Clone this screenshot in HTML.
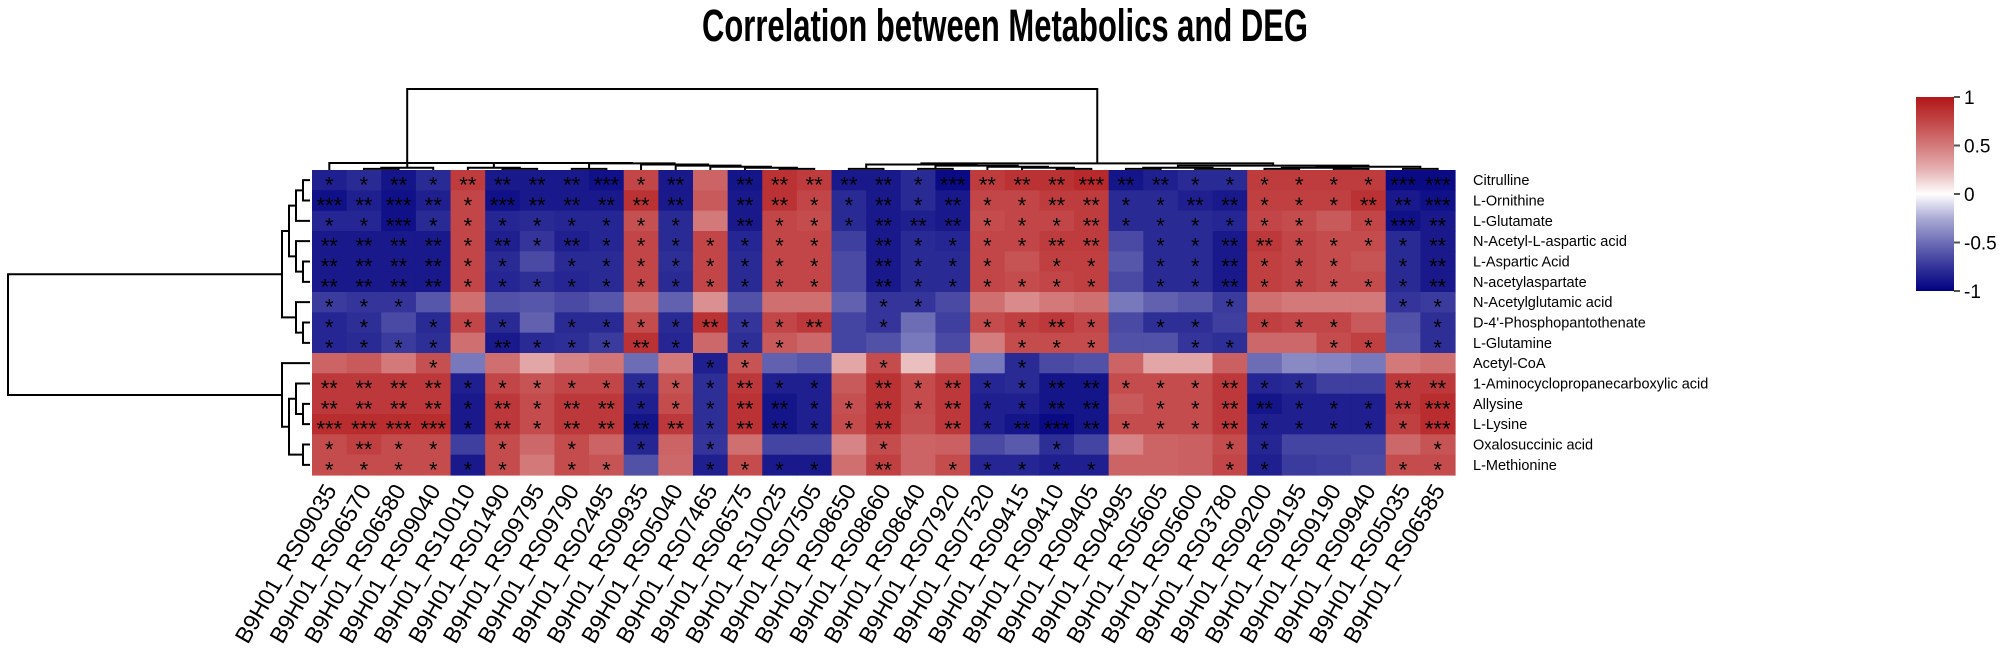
<!DOCTYPE html>
<html><head><meta charset="utf-8"><title>Correlation between Metabolics and DEG</title>
<style>
html,body{margin:0;padding:0;background:#fff;}
svg{display:block;font-family:"Liberation Sans",Arial,sans-serif;}
</style></head>
<body>
<svg id="chart" width="2008" height="666" viewBox="0 0 2008 666" xmlns="http://www.w3.org/2000/svg">
<text x="702" y="41" font-size="45" font-weight="bold" textLength="606" lengthAdjust="spacingAndGlyphs">Correlation between Metabolics and DEG</text>
<g id="dendro-top" stroke="#000" stroke-width="2" fill="none"></g>
<g id="dendro-left" stroke="#000" stroke-width="2" fill="none"></g>
<g id="cells"></g>
<g id="stars"></g>
<g id="rowlabels"></g>
<g id="collabels"></g>
<g id="legend"></g>
</svg>
<script>
const rowLabels = ["Citrulline","L-Ornithine","L-Glutamate","N-Acetyl-L-aspartic acid","L-Aspartic Acid","N-acetylaspartate","N-Acetylglutamic acid","D-4'-Phosphopantothenate","L-Glutamine","Acetyl-CoA","1-Aminocyclopropanecarboxylic acid","Allysine","L-Lysine","Oxalosuccinic acid","L-Methionine"];
const colLabels = ["B9H01_RS09035","B9H01_RS06570","B9H01_RS06580","B9H01_RS09040","B9H01_RS10010","B9H01_RS01490","B9H01_RS09795","B9H01_RS09790","B9H01_RS02495","B9H01_RS09935","B9H01_RS05040","B9H01_RS07465","B9H01_RS06575","B9H01_RS10025","B9H01_RS07505","B9H01_RS08650","B9H01_RS08660","B9H01_RS08640","B9H01_RS07920","B9H01_RS07520","B9H01_RS09415","B9H01_RS09410","B9H01_RS09405","B9H01_RS04995","B9H01_RS05605","B9H01_RS05600","B9H01_RS03780","B9H01_RS09200","B9H01_RS09195","B9H01_RS09190","B9H01_RS09940","B9H01_RS05035","B9H01_RS06585"];
const legendTicks = [1,0.5,0,-0.5,-1];
const legendTickLabels = ["1","0.5","0","-0.5","-1"];
const corrValues = [
[-0.85,-0.8,-0.9,-0.8,0.8,-0.88,-0.88,-0.88,-0.92,0.75,-0.88,0.6,-0.9,0.85,0.8,-0.88,-0.88,-0.8,-0.95,0.8,0.85,0.85,0.9,-0.9,-0.85,-0.8,-0.8,0.8,0.8,0.8,0.8,-0.95,-0.95],
[-0.92,-0.85,-0.92,-0.85,0.75,-0.92,-0.88,-0.88,-0.88,0.85,-0.88,0.65,-0.88,0.85,0.75,-0.8,-0.88,-0.8,-0.88,0.75,0.75,0.8,0.8,-0.8,-0.8,-0.85,-0.88,0.78,0.78,0.78,0.85,-0.88,-0.92],
[-0.82,-0.82,-0.92,-0.8,0.75,-0.82,-0.8,-0.82,-0.82,0.7,-0.8,0.5,-0.88,0.75,0.72,-0.8,-0.88,-0.85,-0.88,0.72,0.75,0.75,0.8,-0.8,-0.8,-0.8,-0.82,0.75,0.72,0.65,0.75,-0.92,-0.88],
[-0.88,-0.88,-0.88,-0.88,0.75,-0.85,-0.75,-0.85,-0.82,0.75,-0.8,0.75,-0.82,0.75,0.75,-0.7,-0.88,-0.8,-0.82,0.75,0.75,0.8,0.8,-0.65,-0.8,-0.8,-0.88,0.82,0.75,0.72,0.72,-0.8,-0.88],
[-0.88,-0.88,-0.88,-0.88,0.75,-0.8,-0.65,-0.8,-0.8,0.75,-0.78,0.75,-0.8,0.75,0.75,-0.65,-0.88,-0.8,-0.8,0.75,0.68,0.78,0.78,-0.6,-0.8,-0.8,-0.88,0.78,0.75,0.72,0.68,-0.8,-0.88],
[-0.88,-0.88,-0.88,-0.88,0.75,-0.82,-0.78,-0.82,-0.8,0.75,-0.8,0.75,-0.8,0.75,0.75,-0.65,-0.88,-0.8,-0.8,0.75,0.72,0.75,0.78,-0.65,-0.8,-0.8,-0.88,0.78,0.75,0.72,0.72,-0.8,-0.88],
[-0.72,-0.75,-0.75,-0.6,0.55,-0.62,-0.6,-0.65,-0.6,0.55,-0.55,0.4,-0.62,0.55,0.55,-0.55,-0.75,-0.75,-0.65,0.55,0.42,0.5,0.55,-0.45,-0.55,-0.6,-0.72,0.55,0.5,0.5,0.5,-0.75,-0.72],
[-0.82,-0.78,-0.65,-0.8,0.75,-0.8,-0.55,-0.8,-0.8,0.72,-0.8,0.85,-0.75,0.75,0.82,-0.68,-0.75,-0.5,-0.7,0.72,0.78,0.82,0.75,-0.65,-0.78,-0.78,-0.7,0.78,0.75,0.75,0.65,-0.62,-0.78],
[-0.82,-0.8,-0.72,-0.78,0.55,-0.88,-0.8,-0.78,-0.72,0.85,-0.82,0.58,-0.78,0.65,0.58,-0.68,-0.62,-0.45,-0.65,0.48,0.72,0.72,0.72,-0.62,-0.62,-0.75,-0.78,0.58,0.58,0.72,0.78,-0.6,-0.78],
[0.6,0.65,0.5,0.7,-0.45,0.55,0.3,0.45,0.52,-0.5,0.5,-0.85,0.68,-0.55,-0.6,0.3,0.72,0.2,0.58,-0.45,-0.8,-0.65,-0.62,0.6,0.3,0.3,0.62,-0.5,-0.38,-0.4,-0.45,0.5,0.55],
[0.82,0.82,0.82,0.82,-0.85,0.75,0.68,0.75,0.75,-0.8,0.68,-0.78,0.82,-0.85,-0.85,0.65,0.85,0.72,0.82,-0.82,-0.8,-0.9,-0.9,0.72,0.72,0.72,0.82,-0.82,-0.8,-0.7,-0.7,0.82,0.82],
[0.82,0.82,0.82,0.82,-0.88,0.82,0.72,0.82,0.82,-0.85,0.72,-0.78,0.85,-0.9,-0.85,0.7,0.85,0.72,0.82,-0.85,-0.85,-0.9,-0.9,0.65,0.72,0.72,0.82,-0.9,-0.85,-0.85,-0.85,0.82,0.88],
[0.88,0.88,0.88,0.88,-0.88,0.82,0.72,0.82,0.82,-0.9,0.82,-0.78,0.85,-0.9,-0.85,0.72,0.85,0.7,0.82,-0.85,-0.9,-0.95,-0.9,0.72,0.72,0.72,0.82,-0.85,-0.85,-0.85,-0.85,0.78,0.88],
[0.72,0.78,0.72,0.72,-0.7,0.72,0.58,0.72,0.6,-0.82,0.6,-0.75,0.55,-0.68,-0.68,0.45,0.72,0.6,0.62,-0.65,-0.58,-0.78,-0.68,0.45,0.6,0.62,0.72,-0.82,-0.68,-0.68,-0.68,0.58,0.68],
[0.72,0.72,0.72,0.72,-0.88,0.72,0.5,0.72,0.68,-0.62,0.58,-0.85,0.72,-0.88,-0.88,0.55,0.78,0.6,0.72,-0.82,-0.82,-0.85,-0.85,0.6,0.6,0.62,0.75,-0.85,-0.72,-0.7,-0.65,0.72,0.72]
];
const sigStars = [
[1,1,2,1,2,2,2,2,3,1,2,0,2,2,2,2,2,1,3,2,2,2,3,2,2,1,1,1,1,1,1,3,3],
[3,2,3,2,1,3,2,2,2,2,2,0,2,2,1,1,2,1,2,1,1,2,2,1,1,2,2,1,1,1,2,2,3],
[1,1,3,1,1,1,1,1,1,1,1,0,2,1,1,1,2,2,2,1,1,1,2,1,1,1,1,1,1,0,1,3,2],
[2,2,2,2,1,2,1,2,1,1,1,1,1,1,1,0,2,1,1,1,1,2,2,0,1,1,2,2,1,1,1,1,2],
[2,2,2,2,1,1,0,1,1,1,1,1,1,1,1,0,2,1,1,1,0,1,1,0,1,1,2,1,1,1,0,1,2],
[2,2,2,2,1,1,1,1,1,1,1,1,1,1,1,0,2,1,1,1,1,1,1,0,1,1,2,1,1,1,1,1,2],
[1,1,1,0,0,0,0,0,0,0,0,0,0,0,0,0,1,1,0,0,0,0,0,0,0,0,1,0,0,0,0,1,1],
[1,1,0,1,1,1,0,1,1,1,1,2,1,1,2,0,1,0,0,1,1,2,1,0,1,1,0,1,1,1,0,0,1],
[1,1,1,1,0,2,1,1,1,2,1,0,1,1,0,0,0,0,0,0,1,1,1,0,0,1,1,0,0,1,1,0,1],
[0,0,0,1,0,0,0,0,0,0,0,1,1,0,0,0,1,0,0,0,1,0,0,0,0,0,0,0,0,0,0,0,0],
[2,2,2,2,1,1,1,1,1,1,1,1,2,1,1,0,2,1,2,1,1,2,2,1,1,1,2,1,1,0,0,2,2],
[2,2,2,2,1,2,1,2,2,1,1,1,2,2,1,1,2,1,2,1,1,2,2,0,1,1,2,2,1,1,1,2,3],
[3,3,3,3,1,2,1,2,2,2,2,1,2,2,1,1,2,0,2,1,2,3,2,1,1,1,2,1,1,1,1,1,3],
[1,2,1,1,0,1,0,1,0,1,0,1,0,0,0,0,1,0,0,0,0,1,0,0,0,0,1,1,0,0,0,0,1],
[1,1,1,1,1,1,0,1,1,0,0,1,1,1,1,0,2,0,1,1,1,1,1,0,0,0,1,1,0,0,0,1,1]
];
const colTree = [[0,[[[1,2],3],[[4,[5,6]],[[7,8],[9,[10,[11,[12,[13,14]]]]]]]]],[[[15,16],[[17,18],[19,[20,[21,22]]]]],[[[23,24],[25,26]],[[[27,28],[29,30]],[31,32]]]]];
const rowTree = [[[[[0,1],2],[3,[4,5]]],[6,[7,8]]],[9,[[10,[11,12]],[13,14]]]];

const NS="http://www.w3.org/2000/svg";
const X0=312, Y0=170, CW=1143/colLabels.length, RH=305/rowLabels.length;
function xCol(i){return X0+CW*i;}
function yRow(j){return Y0+RH*j;}
function color(v){
  const t=Math.pow(Math.min(1,Math.abs(v)),0.8);
  let r,g,b;
  if(v>=0){r=255-t*(255-178);g=255-t*(255-22);b=255-t*(255-24);}
  else{r=255-t*255;g=255-t*255;b=255-t*(255-128);}
  return "rgb("+Math.round(r)+","+Math.round(g)+","+Math.round(b)+")";
}
function mk(tag,attrs,parent){const e=document.createElementNS(NS,tag);for(const k in attrs)e.setAttribute(k,attrs[k]);parent.appendChild(e);return e;}

const gC=document.getElementById("cells"), gS=document.getElementById("stars");
corrValues.forEach((row,j)=>{row.forEach((v,i)=>{
  const r=mk("rect",{x:xCol(i).toFixed(2),y:yRow(j).toFixed(2),width:(CW+0.6).toFixed(2),height:(RH+0.6).toFixed(2),fill:color(v)},gC);
  
  
  const n=sigStars[j][i];
  if(n>0){
    const t=mk("text",{x:(xCol(i)+CW/2).toFixed(2),y:(yRow(j)+RH/2+12.5).toFixed(2),"text-anchor":"middle","font-size":"22",fill:"#000"},gS);
    t.textContent="*".repeat(n);
    
    
  }
});});

const gR=document.getElementById("rowlabels");
rowLabels.forEach((l,j)=>{
  const t=mk("text",{x:1473,y:(yRow(j)+RH/2+5).toFixed(2),"font-size":"14.5",fill:"#000"},gR);
  t.textContent=l;
  
  
});
const gX=document.getElementById("collabels");
colLabels.forEach((l,i)=>{
  const cx=xCol(i)+CW/2+8, cy=490;
  const t=mk("text",{x:cx.toFixed(2),y:cy,"text-anchor":"end","font-size":"23",fill:"#000",transform:"rotate(-60 "+cx.toFixed(2)+" "+cy+")"},gX);
  t.textContent=l;
  
  
});

function depth(n){return Array.isArray(n)?1+Math.max(depth(n[0]),depth(n[1])):0;}
const gT=document.getElementById("dendro-top");
function drawCol(n){
  if(!Array.isArray(n))return {x:xCol(n)+CW/2,y:170};
  const a=drawCol(n[0]),b=drawCol(n[1]);
  const d=depth(n);
  const y=170-Math.min(7,d*1.1);
  const p=mk("path",{d:"M"+a.x+","+a.y+"V"+y+"H"+b.x+"V"+b.y},gT);
  
  
  return {x:(a.x+b.x)/2,y:y};
}
const ca=drawCol(colTree[0]), cb=drawCol(colTree[1]);
const rootTop=mk("path",{d:"M"+ca.x+","+ca.y+"V89H"+cb.x+"V"+cb.y},gT);



const gL=document.getElementById("dendro-left");
function drawRow(n){
  if(!Array.isArray(n))return {x:310,y:yRow(n)+RH/2};
  const a=drawRow(n[0]),b=drawRow(n[1]);
  const d=depth(n);
  const x=310-Math.min(48,d*7);
  const p=mk("path",{d:"M"+a.x+","+a.y+"H"+x+"V"+b.y+"H"+b.x},gL);
  
  
  return {x:x,y:(a.y+b.y)/2};
}
const ra=drawRow(rowTree[0]), rb=drawRow(rowTree[1]);
const rootLeft=mk("path",{d:"M"+ra.x+","+ra.y+"H8V"+rb.y+"H"+rb.x},gL);



const gLg=document.getElementById("legend");
const defs=mk("defs",{},gLg);
const grad=mk("linearGradient",{id:"lg",x1:0,y1:0,x2:0,y2:1},defs);
[1,0.75,0.5,0.25,0,-0.25,-0.5,-0.75,-1].forEach((v,k)=>{mk("stop",{offset:(k/8),"stop-color":color(v)},grad);});
const LT=97, LB=291;
function yLeg(v){return LT+(1-v)/2*(LB-LT);}
const bar=mk("rect",{x:1916,y:LT,width:38,height:LB-LT,fill:"url(#lg)"},gLg);


legendTicks.forEach((v,k)=>{
  const tk=mk("line",{x1:1954,x2:1960,y1:yLeg(v),y2:yLeg(v),stroke:"#555","stroke-width":2},gLg);
  
  
  const t=mk("text",{x:1964,y:yLeg(v)+7,"font-size":"19",fill:"#000"},gLg);
  t.textContent=legendTickLabels[k];
  
  
});
</script>
</body></html>
